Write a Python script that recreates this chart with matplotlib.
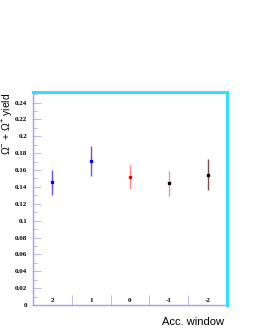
import matplotlib
matplotlib.use("Agg")
import matplotlib.pyplot as plt
from matplotlib.ticker import MultipleLocator

categories = ["2", "1", "0", "-1", "-2"]
yields = [0.1455, 0.171, 0.152, 0.1444, 0.1546]
errors = [0.015, 0.018, 0.014, 0.015, 0.018]
marker_colors = ["#0000ff", "#0000ff", "#ff0000", "#000000", "#000000"]
bar_colors = ["#6a50e8", "#8048d8", "#ff8a8a", "#c4a4a4", "#804848"]
ytick_vals = [0, 0.02, 0.04, 0.06, 0.08, 0.1, 0.12, 0.14, 0.16, 0.18, 0.2, 0.22, 0.24]
ytick_labels = ["0", "0.02", "0.04", "0.06", "0.08", "0.1", "0.12", "0.14", "0.16", "0.18", "0.2", "0.22", "0.24"]

plt.rcParams['mathtext.fontset'] = 'custom'
plt.rcParams['mathtext.rm'] = 'Liberation Sans'
plt.rcParams['mathtext.it'] = 'Liberation Sans'

fig = plt.figure(figsize=(2.55, 3.30), dpi=100)
ax = fig.add_axes([33/255, 1 - 305/330, 194/255, 213/330])

n = len(categories)
xs = [i + 0.5 for i in range(n)]
for x, y, e, mc, bc in zip(xs, yields, errors, marker_colors, bar_colors):
    ax.errorbar([x], [y], yerr=[e], fmt='none', ecolor=bc, elinewidth=1.0, capsize=0)
    ax.plot([x], [y], marker='s', ms=2.0, color=mc, mec=mc, ls='none')

ax.set_xlim(0, n)
ax.set_ylim(0, 0.2525)

ax.set_yticks(ytick_vals)
ax.set_yticklabels(ytick_labels, fontfamily='Liberation Serif', fontweight='bold', fontsize=5)
ax.yaxis.set_minor_locator(MultipleLocator(0.01))
ax.tick_params(axis='y', which='major', direction='in', length=6, width=0.6, color='#b0b0e0', pad=4)
ax.tick_params(axis='y', which='minor', direction='in', length=3, width=0.6, color='#b0b0e0')

ax.set_xticks(range(1, n))
ax.set_xticklabels([])
ax.tick_params(axis='x', which='major', direction='in', length=7, width=0.6, color='#b0b0e0')
for x, c in zip(xs, categories):
    ax.text(x, 0.0057, c, ha='center', va='center', fontfamily='Liberation Serif',
            fontweight='bold', fontsize=5)

for s in ['left', 'bottom']:
    ax.spines[s].set_color('#a0a0f0')
    ax.spines[s].set_linewidth(1.0)
for s in ['top', 'right']:
    ax.spines[s].set_color('#30e0ff')
    ax.spines[s].set_linewidth(2.2)

fig.text(7/255, 1 - 124/330, r'$\Omega^{-}$ + $\bar{\Omega}^{+}$ yield', rotation=90,
         ha='center', va='center', fontfamily='Liberation Sans', fontsize=7.5)
fig.text(224/255, 1 - 322/330, 'Acc. window', ha='right', va='center',
         fontfamily='Liberation Sans', fontsize=8)

fig.savefig('out.png', dpi=100)
